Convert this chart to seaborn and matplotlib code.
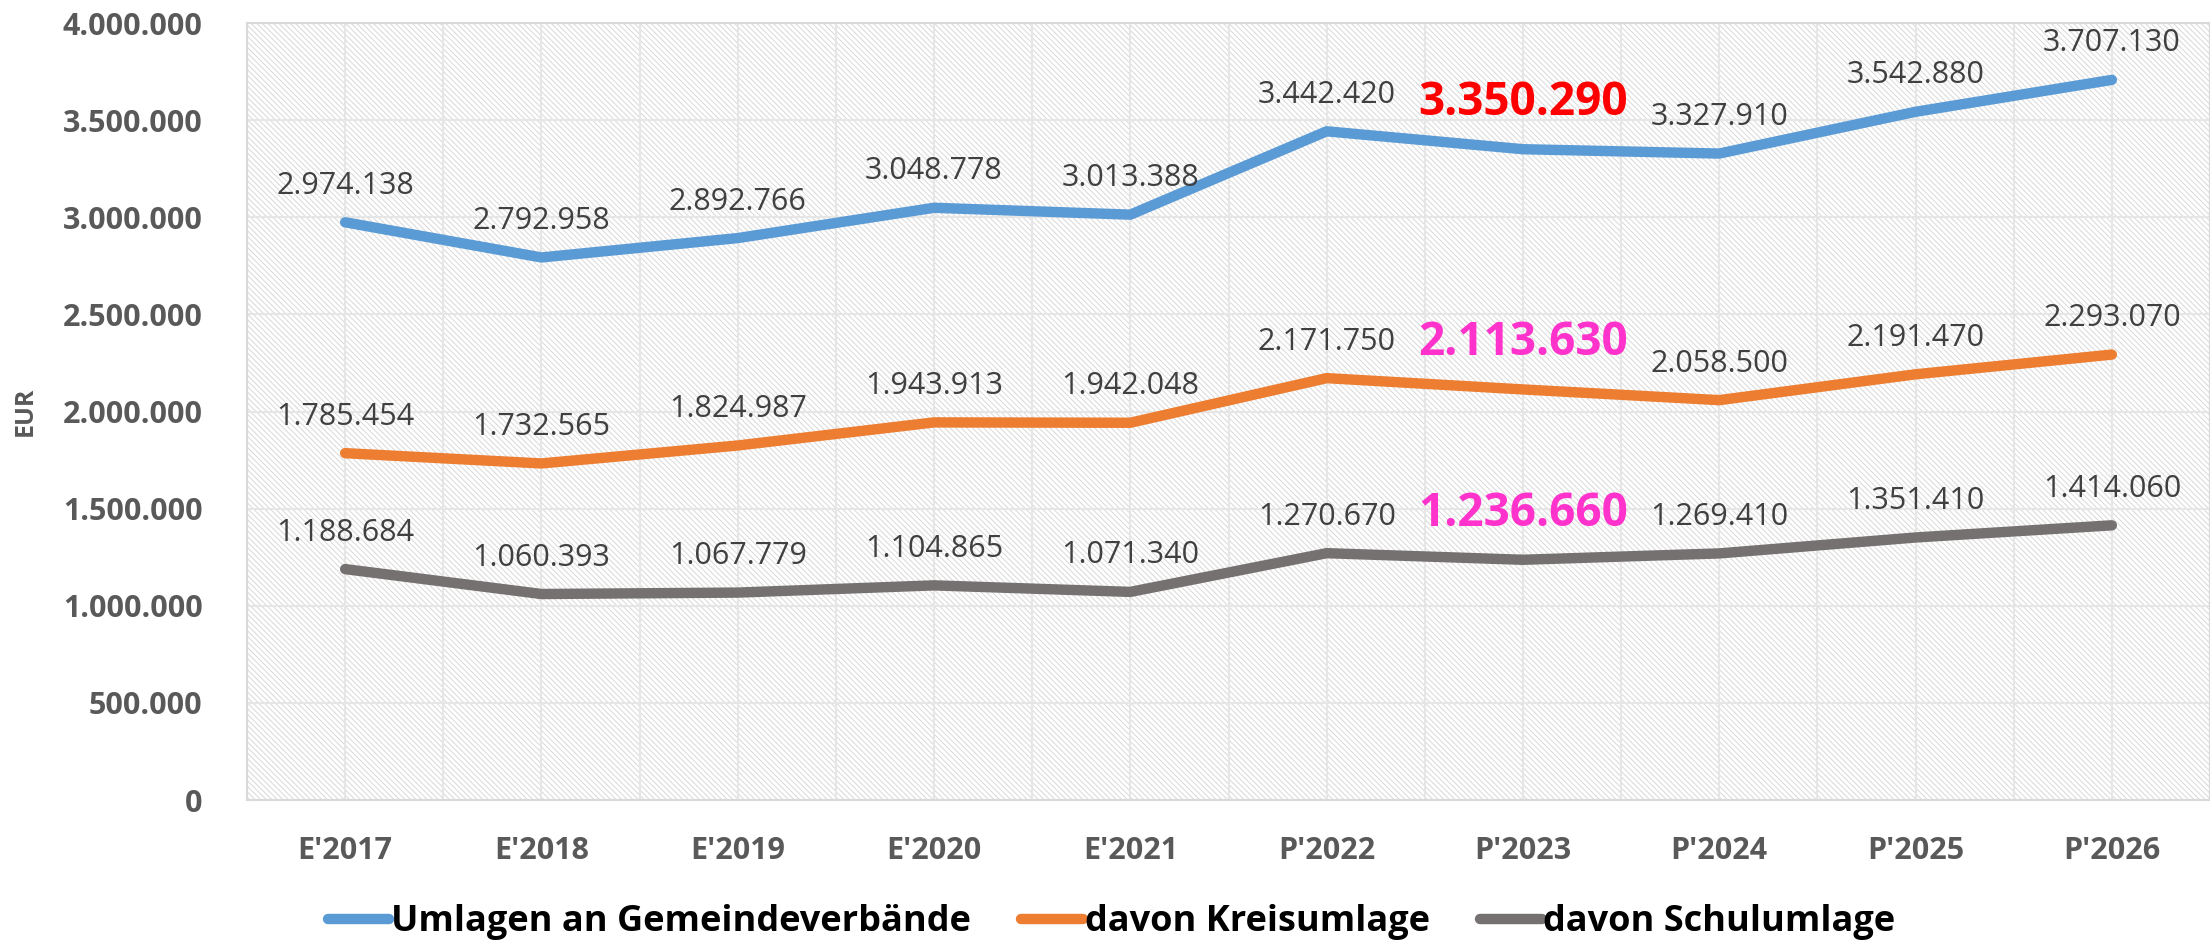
import numpy as np
import pandas as pd
import seaborn as sns
import matplotlib.pyplot as plt
from matplotlib.patches import Rectangle
from matplotlib.lines import Line2D
from matplotlib.ticker import FuncFormatter, MultipleLocator

# data
years = ["E'2017", "E'2018", "E'2019", "E'2020", "E'2021",
         "P'2022", "P'2023", "P'2024", "P'2025", "P'2026"]
umlagen = [2974138, 2792958, 2892766, 3048778, 3013388,
           3442420, 3350290, 3327910, 3542880, 3707130]
kreisumlage = [1785454, 1732565, 1824987, 1943913, 1942048,
               2171750, 2113630, 2058500, 2191470, 2293070]
schulumlage = [1188684, 1060393, 1067779, 1104865, 1071340,
               1270670, 1236660, 1269410, 1351410, 1414060]
series_names = ['Umlagen an Gemeindeverbände', 'davon Kreisumlage', 'davon Schulumlage']
highlight_year = "P'2023"

colors = ['#5B9BD5', '#ED7D31', '#767171']
highlight_colors = ['#FF0000', '#FF33CC', '#FF33CC']

df = pd.DataFrame({
    'Jahr': years * 3,
    'Wert': umlagen + kreisumlage + schulumlage,
    'Reihe': np.repeat(series_names, len(years)),
})


def de_fmt(v, pos=None):
    return f'{int(round(v)):,}'.replace(',', '.')


sns.set_theme(style='white')
plt.rcParams['font.family'] = ['Open Sans', 'DejaVu Sans']
plt.rcParams['font.weight'] = 'bold'
plt.rcParams['hatch.linewidth'] = 0.7

fig = plt.figure(figsize=(22.1, 9.41), dpi=100)
ax = fig.add_axes([247 / 2210, 141 / 941, 1963 / 2210, 777 / 941])

# hatched plot background (Excel "light downward diagonal")
ax.add_patch(Rectangle((0, 0), 1, 1, transform=ax.transAxes, facecolor='white',
                       edgecolor='#d8d8d8', hatch='\\' * 6, lw=0, zorder=0))

sns.lineplot(data=df, x='Jahr', y='Wert', hue='Reihe', hue_order=series_names,
             palette=colors, linewidth=7.5, sort=False, legend=False, ax=ax, zorder=3)
for line in ax.lines:
    line.set_solid_capstyle('round')
    line.set_solid_joinstyle('round')

ax.set_xlim(-0.5, len(years) - 0.5)
ax.set_ylim(0, 4000000)
ax.yaxis.set_major_locator(MultipleLocator(500000))
ax.yaxis.set_major_formatter(FuncFormatter(de_fmt))
ax.set_xticks(range(len(years)))
ax.set_xticklabels(years)
ax.set_xticks(np.arange(-0.5, len(years), 1), minor=True)
ax.set_xlabel('')
ax.set_ylabel('')

ax.set_axisbelow(True)
ax.grid(True, which='both', axis='x', color='#e6e6e6', lw=1.5, zorder=1)
ax.grid(True, which='major', axis='y', color='#e6e6e6', lw=1.5, zorder=1)

ax.tick_params(axis='y', labelsize=22, labelcolor='#595959', pad=32, length=0)
ax.tick_params(axis='x', labelsize=22, labelcolor='#595959', pad=26, length=0)
ax.tick_params(axis='x', which='minor', length=0)
for sp in ax.spines.values():
    sp.set_color('#d9d9d9')
    sp.set_linewidth(1.5)

# data labels
for i, vals in enumerate([umlagen, kreisumlage, schulumlage]):
    for j, v in enumerate(vals):
        if years[j] == highlight_year:
            ax.annotate(de_fmt(v), xy=(j, v), xytext=(0, 24.5), textcoords='offset points',
                        ha='center', va='baseline', fontsize=33, fontweight='bold',
                        color=highlight_colors[i], zorder=5)
        else:
            ax.annotate(de_fmt(v), xy=(j, v), xytext=(0, 20.5), textcoords='offset points',
                        ha='center', va='baseline', fontsize=22, fontweight='normal',
                        color='#404040', zorder=5)

fig.text(25 / 2210, 1 - 411 / 941, 'EUR', rotation=90, ha='center', va='center',
         fontsize=18, color='#595959', fontweight='bold')

handles = [Line2D([0], [0], color=c, lw=7.5, solid_capstyle='round') for c in colors]
fig.legend(handles, series_names, loc='center', bbox_to_anchor=(0.503, 0.02), ncol=3,
           frameon=False, prop={'weight': 'bold', 'size': 26}, handlelength=1.7,
           handletextpad=0.05, columnspacing=1.4, labelcolor='black')

fig.savefig('out.png', dpi=100)
